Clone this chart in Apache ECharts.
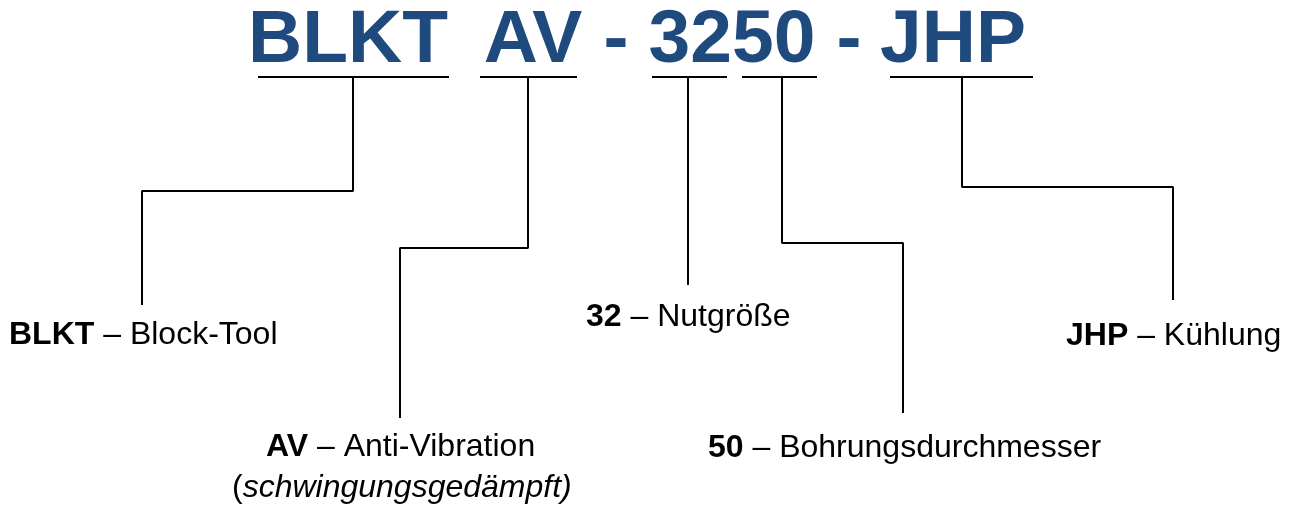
<!DOCTYPE html>
<html>
<head>
<meta charset="utf-8">
<script src="https://cdn.jsdelivr.net/npm/echarts@6/dist/echarts.min.js"></script>
<style>
html,body{margin:0;padding:0;background:#fff;}
#chart{width:1296px;height:505px;}
</style>
</head>
<body>
<div id="chart"></div>
<script>
// Code tokens at top (text, centre x, centre y)
const titleTokens = ['BLKT', 'AV', '-', '3250', '-', 'JHP'];
const titleX = [348, 533, 616, 732, 849, 953];
const titleY = [41, 41, 41, 41, 41, 41];

// Underlines under code segments: [x1, x2, y]
const underlines = [
  [258, 449, 77],
  [480, 577, 77],
  [652, 727, 77],
  [742, 817, 77],
  [890, 1033, 77]
];

// Connector polylines (one per segment)
const connBLKT = [[353, 77], [353, 191], [142, 191], [142, 305]];
const connAV   = [[528, 77], [528, 248], [400, 248], [400, 418]];
const conn32   = [[688, 77], [688, 285]];
const conn50   = [[782, 77], [782, 243], [903, 243], [903, 413]];
const connJHP  = [[962, 77], [962, 187], [1173, 187], [1173, 300]];

// Description labels: [rich text, left x, centre y]
const labelTexts = [
  '{b|BLKT} – Block-Tool',
  '{b|AV} – Anti-Vibration',
  '(' + '{i|schwingungsgedämpft)}',
  '{b|32} – Nutgröße',
  '{b|50} – Bohrungsdurchmesser',
  '{b|JHP} – Kühlung'
];
const labelX = [9, 266, 232, 586, 708, 1066];
const labelY = [335, 447, 488, 317, 448, 336];

const FONT = '"Liberation Sans", Arial, sans-serif';
const chart = echarts.init(document.getElementById('chart'));

function lineSeries(pts, w) {
  return {
    type: 'line', data: pts, symbol: 'none', silent: true,
    lineStyle: {color: '#000', width: w}, animation: false, z: 1
  };
}

const series = [];
underlines.forEach(u => series.push(lineSeries([[u[0], u[2]], [u[1], u[2]]], 2)));
[connBLKT, connAV, conn32, conn50, connJHP].forEach(c => series.push(lineSeries(c, 2)));

series.push({
  type: 'scatter', symbolSize: 0, animation: false, silent: true, z: 3,
  itemStyle: {opacity: 1},
  data: titleTokens.map((t, i) => ({value: [titleX[i], titleY[i]], name: t})),
  label: {
    show: true, position: 'inside', formatter: p => p.name, opacity: 1,
    fontFamily: FONT, fontWeight: 'bold', fontSize: 75, color: '#1F4A7D',
    textBorderWidth: 0,
    align: 'center', verticalAlign: 'middle'
  }
});

series.push({
  type: 'scatter', symbolSize: 0, animation: false, silent: true, z: 3,
  itemStyle: {opacity: 1},
  data: labelTexts.map((t, i) => ({value: [labelX[i], labelY[i]], name: t})),
  label: {
    show: true, position: 'inside', formatter: p => p.name, opacity: 1,
    fontFamily: FONT, fontSize: 32, color: '#000', textBorderWidth: 0,
    align: 'left', verticalAlign: 'middle',
    rich: {
      b: {fontFamily: FONT, fontSize: 32, fontWeight: 'bold', color: '#000', textBorderWidth: 0},
      i: {fontFamily: FONT, fontSize: 32, fontStyle: 'italic', color: '#000', textBorderWidth: 0}
    }
  }
});

chart.setOption({
  backgroundColor: '#fff',
  animation: false,
  grid: {left: 0, right: 0, top: 0, bottom: 0},
  xAxis: {type: 'value', min: 0, max: 1296, show: false},
  yAxis: {type: 'value', min: 0, max: 505, inverse: true, show: false},
  series: series
});
</script>
</body>
</html>
